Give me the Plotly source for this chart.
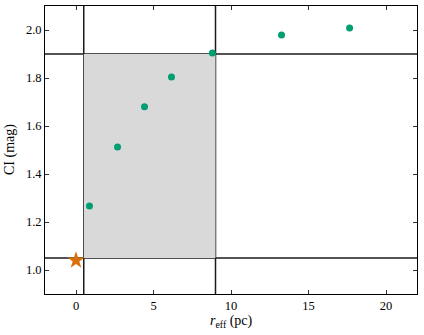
import plotly.graph_objects as go

# measured clusters: effective radius (pc) vs colour index (mag)
r_eff = [0.87, 2.68, 4.42, 6.16, 8.8, 13.26, 17.65]
ci = [1.267, 1.513, 1.68, 1.804, 1.904, 1.979, 2.008]

# reference object (star marker)
ref_r = [0.0]
ref_ci = [1.04]

# selection box limits
r_lims = [0.5, 9.0]
ci_lims = [1.05, 1.9]

x_ticks = [0, 5, 10, 15, 20]
y_ticks = [1.0, 1.2, 1.4, 1.6, 1.8, 2.0]

serif = "Liberation Serif, DejaVu Serif, serif"
font = dict(family=serif, size=12.5, color="black")
title_font = dict(family=serif, size=14, color="black")

fig = go.Figure()

fig.add_trace(go.Scatter(x=r_eff, y=ci, mode="markers",
                         marker=dict(color="#009E73", size=7, line=dict(width=0)),
                         showlegend=False))
fig.add_trace(go.Scatter(x=ref_r, y=ref_ci, mode="markers",
                         marker=dict(color="#D8700C", size=13, symbol="star", line=dict(width=0)),
                         showlegend=False))

# shaded box
fig.add_shape(type="rect", xref="x", yref="y", x0=r_lims[0], x1=r_lims[1],
              y0=ci_lims[0], y1=ci_lims[1], fillcolor="#d9d9d9",
              line=dict(width=0), layer="below")
# limit lines across the whole axes
for v in r_lims:
    fig.add_shape(type="line", xref="x", yref="paper", x0=v, x1=v, y0=0, y1=1,
                  line=dict(color="#1a1a1a", width=1.5), layer="below")
for v in ci_lims:
    fig.add_shape(type="line", xref="paper", yref="y", x0=0, x1=1, y0=v, y1=v,
                  line=dict(color="#1a1a1a", width=1.5), layer="below")

# axis titles as annotations for exact placement
fig.add_annotation(text="<i>r</i><sub>eff</sub> (pc)", xref="paper", yref="paper",
                   x=0.5, y=0, yanchor="top", yshift=-17, showarrow=False, font=title_font)
fig.add_annotation(text="CI (mag)", xref="paper", yref="paper", textangle=-90,
                   x=0, y=0.5, xanchor="center", xshift=-35, showarrow=False, font=title_font)

fig.update_layout(
    width=424, height=335,
    margin=dict(l=45, r=7, t=6, b=41),
    plot_bgcolor="white", paper_bgcolor="white",
    font=font,
    xaxis=dict(range=[-2, 22], tickvals=x_ticks, ticks="inside", ticklen=4,
               tickcolor="#333", showline=True, linecolor="black", linewidth=1,
               mirror="ticks", showgrid=False, zeroline=False, automargin=False),
    yaxis=dict(range=[0.9, 2.1], tickvals=y_ticks, tickformat=".1f", ticks="inside",
               ticklen=4, tickcolor="#333", showline=True, linecolor="black", linewidth=1,
               mirror="ticks", showgrid=False, zeroline=False, automargin=False),
)

# page has a default body margin; drop it so the figure sits at the window corner
fig.write_html("out.html", config={"displayModeBar": False},
               post_script="document.body.style.margin='0';")
